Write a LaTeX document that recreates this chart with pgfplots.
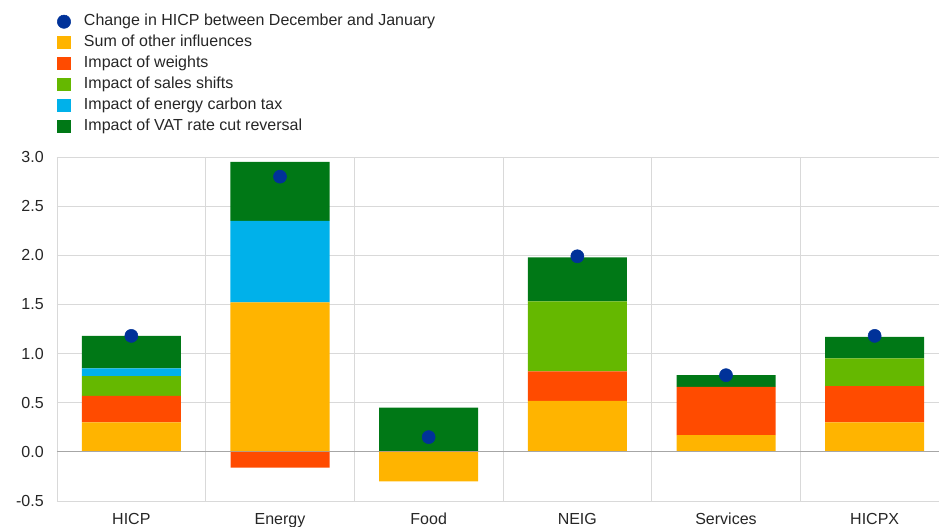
\documentclass[border=0pt]{standalone}
\usepackage{pgfplots}
\usepackage{pgfplotstable}
\pgfplotsset{compat=1.18}
\usepackage{fontspec}
\setmainfont{Liberation Sans}
\definecolor{ecbblue}{HTML}{003299}
\definecolor{ecbyellow}{HTML}{FFB400}
\definecolor{ecborange}{HTML}{FF4B00}
\definecolor{ecbgreen}{HTML}{65B800}
\definecolor{ecblblue}{HTML}{00B1EA}
\definecolor{ecbdgreen}{HTML}{007816}
\definecolor{gridgrey}{HTML}{D9D9D9}
\definecolor{zerogrey}{HTML}{A6A6A6}

% positive contributions (stacked upward)
\pgfplotstableread{
x other weights sales carbon vat
0 0.30 0.27 0.20 0.08 0.33
1 1.52 0.00 0.00 0.83 0.60
2 0.00 0.00 0.00 0.00 0.45
3 0.52 0.30 0.71 0.00 0.45
4 0.17 0.49 0.00 0.00 0.12
5 0.30 0.37 0.28 0.00 0.22
}\posdata
% negative contributions
\pgfplotstableread{
x other weights
1 0.00 -0.16
2 -0.30 0.00
}\negdata
% change in HICP
\pgfplotstableread{
x dot
0 1.18
1 2.80
2 0.15
3 1.99
4 0.78
5 1.18
}\dotdata

\pgfplotsset{
  base/.style={
    scale only axis, width=669pt, height=258pt,
    at={(0pt,0pt)}, anchor=south west,
    xmin=-0.5, xmax=5.5, ymin=-0.5, ymax=3.0,
  },
  sq/.style={legend image code/.code={\fill[##1] (0pt,-5pt) rectangle (10.5pt,5pt);}},
}

\begin{document}
\begin{tikzpicture}[font=\fontsize{12pt}{14pt}\selectfont]
\begin{axis}[base,
  ybar stacked, bar width=74.25pt,
  axis line style={gridgrey},
  ytick={-0.5,0,...,3.0},
  /pgf/number format/fixed, /pgf/number format/fixed zerofill,
  /pgf/number format/precision=1, /pgf/number format/assume math mode=true,
  yticklabel style={inner sep=0pt, xshift=-9.75pt, text=black!85},
  xtick={0,...,5},
  xticklabels={HICP,Energy,Food,NEIG,Services,HICPX},
  xticklabel style={anchor=north, inner sep=0pt, yshift=-9pt, text=black!85},
  minor xtick={0.5,1.5,...,4.5},
  major tick length=0pt, minor tick length=0pt,
  ymajorgrids=true, xminorgrids=true,
  grid style={gridgrey, line width=0.75pt},
  legend cell align=left,
  legend style={draw=none, fill=none, inner sep=0pt, outer sep=0pt,
    at={(0,1.4166)}, anchor=north west, row sep=3.75pt,
    nodes={inner sep=0pt, text height=9pt, text depth=3pt, text=black!85},
    /tikz/every odd column/.append style={column sep=9.75pt}},
]
\addlegendimage{legend image code/.code={\fill[ecbblue] (5.25pt,0pt) circle (5pt);}}
\addlegendentry{Change in HICP between December and January}
\addplot[sq, fill=ecbyellow, draw=none] table[x=x, y=other] {\posdata};
\addlegendentry{Sum of other influences}
\addplot[sq, fill=ecborange, draw=none] table[x=x, y=weights] {\posdata};
\addlegendentry{Impact of weights}
\addplot[sq, fill=ecbgreen, draw=none] table[x=x, y=sales] {\posdata};
\addlegendentry{Impact of sales shifts}
\addplot[sq, fill=ecblblue, draw=none] table[x=x, y=carbon] {\posdata};
\addlegendentry{Impact of energy carbon tax}
\addplot[sq, fill=ecbdgreen, draw=none] table[x=x, y=vat] {\posdata};
\addlegendentry{Impact of VAT rate cut reversal}
\end{axis}
\begin{axis}[base,
  axis line style={draw=none},
  xtick=\empty, ytick=\empty,
  extra y ticks={0}, extra y tick labels={},
  extra y tick style={ymajorgrids=true, major tick length=0pt, major grid style={zerogrey, line width=0.9pt}},
]
\addplot[ybar, bar width=74.25pt, bar shift=0pt, fill=ecbyellow, draw=none] table[x=x, y=other] {\negdata};
\addplot[ybar, bar width=74.25pt, bar shift=0pt, fill=ecborange, draw=none] table[x=x, y=weights] {\negdata};
\addplot[only marks, mark=*, mark size=4.9pt, color=ecbblue] table[x=x, y=dot] {\dotdata};
\end{axis}
\pgfresetboundingbox
\useasboundingbox (-42.75pt,-18.75pt) rectangle (661.5pt,375.75pt);
\end{tikzpicture}
\end{document}
